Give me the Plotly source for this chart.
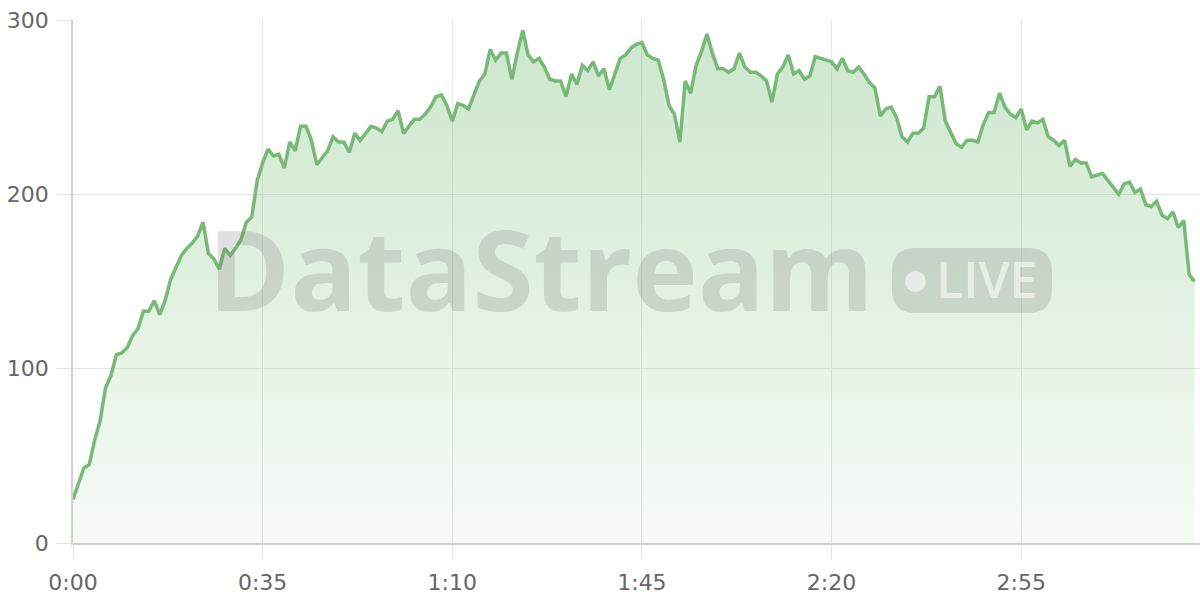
import plotly.graph_objects as go

# time in seconds, one sample per second
seconds = list(range(208))
values = [
    25, 34, 43, 45, 59, 70, 89, 96, 108, 109, 112, 119, 123, 133, 133, 139, 131, 139,
    151, 158, 165, 169, 172, 176, 184, 166, 163, 157, 169, 165, 169, 174, 184, 187,
    208, 218, 226, 222, 223, 215, 230, 225, 239,
    239, 231, 217, 221, 225, 233, 230, 230, 224, 235, 231, 235, 239, 238, 236, 242,
    243, 248, 235, 239, 243, 243, 246, 250, 256, 257, 251, 242, 252, 251, 249, 257,
    265, 269, 283, 277, 281, 281, 266, 281, 294, 280, 276, 278, 273, 266, 265, 265,
    256, 269, 263,
    274, 271, 276, 268, 272, 260, 269, 278, 280, 284, 286, 287, 280, 278, 277, 266,
    251, 246, 230, 265, 258, 274, 282, 292, 281, 272, 272, 270, 272, 281, 273, 270,
    270, 268, 265, 253, 269, 273, 280, 269, 271, 266, 268, 279, 278, 277, 276, 272,
    278, 271, 270, 273,
    269, 264, 261, 245, 249, 250, 244, 233, 230, 235, 235, 238, 256, 256, 262, 242,
    235, 229, 227, 231, 231, 230, 240, 247, 247, 258, 250, 246, 244, 249, 237, 242,
    241, 243, 233, 231, 228, 231, 216, 220, 218, 218, 210, 211, 212, 208, 204, 200,
    206, 207, 201, 203, 194, 193, 196, 188, 186, 190, 181, 185, 154, 150,
]
x_tick_vals = [0, 35, 70, 105, 140, 175]
x_tick_text = ["0:00", "0:35", "1:10", "1:45", "2:20", "2:55"]
y_tick_vals = [0, 100, 200, 300]

LINE = "rgb(118,186,118)"
GRID = "#e6e6e6"
AXIS = "#d0d0d0"
TICKFONT = dict(family="'DejaVu Sans', sans-serif", size=22, color="#666666")

fig = go.Figure()
fig.add_trace(go.Scatter(
    x=seconds, y=values, mode="lines",
    line=dict(color=LINE, width=3.5),
    fill="tozeroy",
    fillgradient=dict(
        type="vertical", start=0, stop=300,
        colorscale=[[0, "rgba(120,190,120,0.06)"], [1, "rgba(120,190,120,0.38)"]],
    ),
    hoverinfo="skip", showlegend=False,
))

# plot area in page pixels: x 73..1200, y 20..543
PX0, PW, PY0, PH = 73.3, 1126.7, 543.0, 523.0
def px(x):
    return (x - PX0) / PW
def py(y):
    return (PY0 - y) / PH

WM = "rgba(120,120,120,0.23)"
bx0, bx1, by0, by1 = px(892), px(1052), py(313), py(248)
rx, ry = 24 / PW, 24 / PH
path = (
    f"M {bx0+rx},{by0} L {bx1-rx},{by0} Q {bx1},{by0} {bx1},{by0+ry} "
    f"L {bx1},{by1-ry} Q {bx1},{by1} {bx1-rx},{by1} "
    f"L {bx0+rx},{by1} Q {bx0},{by1} {bx0},{by1-ry} "
    f"L {bx0},{by0+ry} Q {bx0},{by0} {bx0+rx},{by0} Z"
)
shapes = [
    dict(type="path", xref="paper", yref="paper", path=path,
         fillcolor=WM, line=dict(width=0), layer="above"),
    dict(type="circle", xref="paper", yref="paper",
         x0=px(905), x1=px(926), y0=py(292), y1=py(271),
         fillcolor="rgba(255,255,255,0.55)", line=dict(width=0), layer="above"),
]
annotations = [
    dict(text="<b>DataStream</b>", xref="paper", yref="paper",
         x=px(541), y=py(268),
         xanchor="center", yanchor="middle", showarrow=False,
         font=dict(family="'Open Sans', sans-serif", size=111, color=WM)),
    dict(text="LIVE", xref="paper", yref="paper",
         x=px(934), y=py(279),
         xanchor="left", yanchor="middle", showarrow=False,
         font=dict(family="'Open Sans', sans-serif", size=50, weight=600,
                   color="rgba(255,255,255,0.55)")),
]

fig.update_layout(
    width=1200, height=600,
    margin=dict(l=73, r=0, t=20, b=57, autoexpand=False),
    paper_bgcolor="white", plot_bgcolor="white",
    shapes=shapes, annotations=annotations,
    xaxis=dict(
        range=[0, 208], tickmode="array", tickvals=x_tick_vals, ticktext=x_tick_text,
        showgrid=True, gridcolor=GRID, gridwidth=1,
        ticks="outside", ticklen=15, tickcolor=GRID, tickwidth=1,
        showline=True, linecolor=AXIS, linewidth=1.5,
        zeroline=False, tickfont=TICKFONT, ticklabelstandoff=4,
    ),
    yaxis=dict(
        range=[0, 300], tickmode="array", tickvals=y_tick_vals,
        showgrid=True, gridcolor=GRID, gridwidth=1,
        ticks="outside", ticklen=15, tickcolor=GRID, tickwidth=1,
        showline=True, linecolor=AXIS, linewidth=1.5,
        zeroline=False, tickfont=TICKFONT, ticklabelstandoff=3,
    ),
)

fig.write_html(
    "out.html",
    config={"displayModeBar": False},
    post_script="document.body.style.margin='0';document.body.style.overflow='hidden';",
)
